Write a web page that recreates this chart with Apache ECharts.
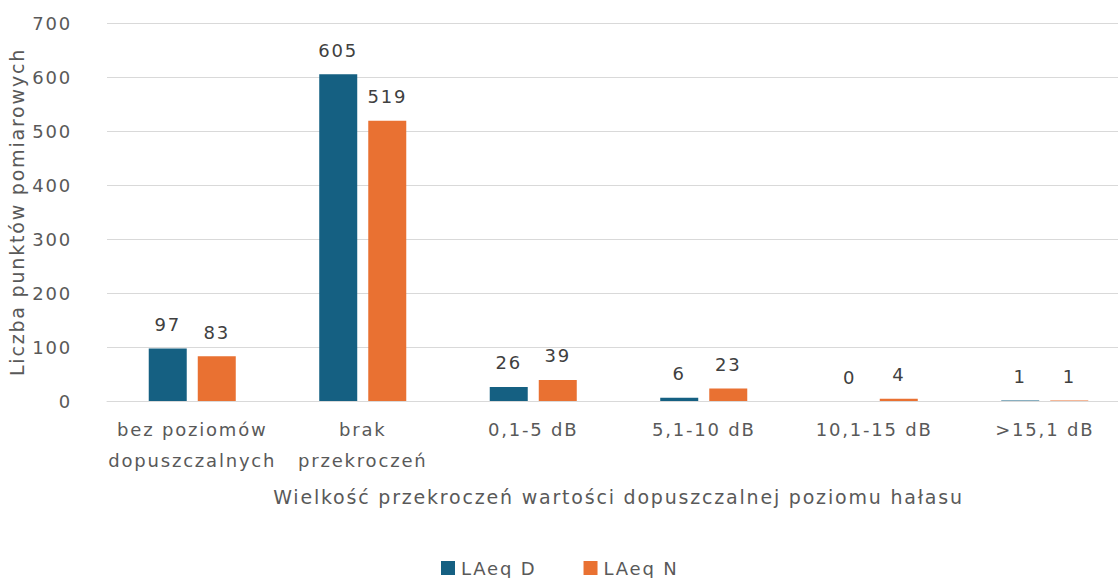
<!DOCTYPE html>
<html>
<head>
<meta charset="utf-8">
<script src="https://cdn.jsdelivr.net/npm/echarts@6/dist/echarts.min.js"></script>
<style>
  html, body { margin: 0; padding: 0; background: #fff; }
  #chart { width: 1118px; height: 578px; }
  /* the original uses a loosely spaced font; widen the SVG text a bit */
  #chart text { letter-spacing: 1.8px; }
</style>
</head>
<body>
<div id="chart"></div>
<script>
const categories = ["bez poziomów\ndopuszczalnych", "brak\nprzekroczeń", "0,1-5 dB", "5,1-10 dB", "10,1-15 dB", ">15,1 dB"];
const laeqD = [97, 605, 26, 6, 0, 1];
const laeqN = [83, 519, 39, 23, 4, 1];

const textColor = "#595959";
const font = "'DejaVu Sans', sans-serif";

const chart = echarts.init(document.getElementById("chart"), null, { renderer: "svg" });

const label = {
  show: true,
  position: "top",
  distance: 15,
  color: "#404040",
  fontSize: 18,
  fontFamily: font,
};

chart.setOption({
  animation: false,
  color: ["#156082", "#E97132"],
  textStyle: { fontFamily: font },
  grid: { left: 107, right: -12, top: 23, bottom: 177, outerBoundsMode: "none" },
  legend: {
    bottom: -4,
    left: 436,
    itemWidth: 14,
    itemHeight: 14,
    itemGap: 58,
    icon: "rect",
    textStyle: { color: textColor, fontSize: 18, fontFamily: font, padding: [0, 0, 0, 1] },
    data: ["LAeq D", "LAeq N"],
  },
  xAxis: {
    type: "category",
    data: categories,
    name: "Wielkość przekroczeń wartości dopuszczalnej poziomu hałasu",
    nameLocation: "middle",
    nameGap: 86,
    nameTextStyle: { color: textColor, fontSize: 19, fontFamily: font },
    axisLine: { lineStyle: { color: "#d9d9d9" } },
    axisTick: { show: false },
    axisLabel: { color: textColor, fontSize: 18, fontFamily: font, margin: 13, lineHeight: 31, interval: 0 },
  },
  yAxis: {
    type: "value",
    min: 0,
    max: 700,
    interval: 100,
    name: "Liczba punktów pomiarowych",
    nameLocation: "middle",
    nameGap: 73,
    nameTextStyle: { color: textColor, fontSize: 19, fontFamily: font },
    axisLine: { show: false },
    axisTick: { show: false },
    axisLabel: { color: textColor, fontSize: 18, fontFamily: font, margin: 35 },
    splitLine: { lineStyle: { color: "#d9d9d9" } },
  },
  series: [
    { name: "LAeq D", type: "bar", data: laeqD, barWidth: 38, barGap: "29%", label },
    { name: "LAeq N", type: "bar", data: laeqN, barWidth: 38, label },
  ],
});
</script>
</body>
</html>
